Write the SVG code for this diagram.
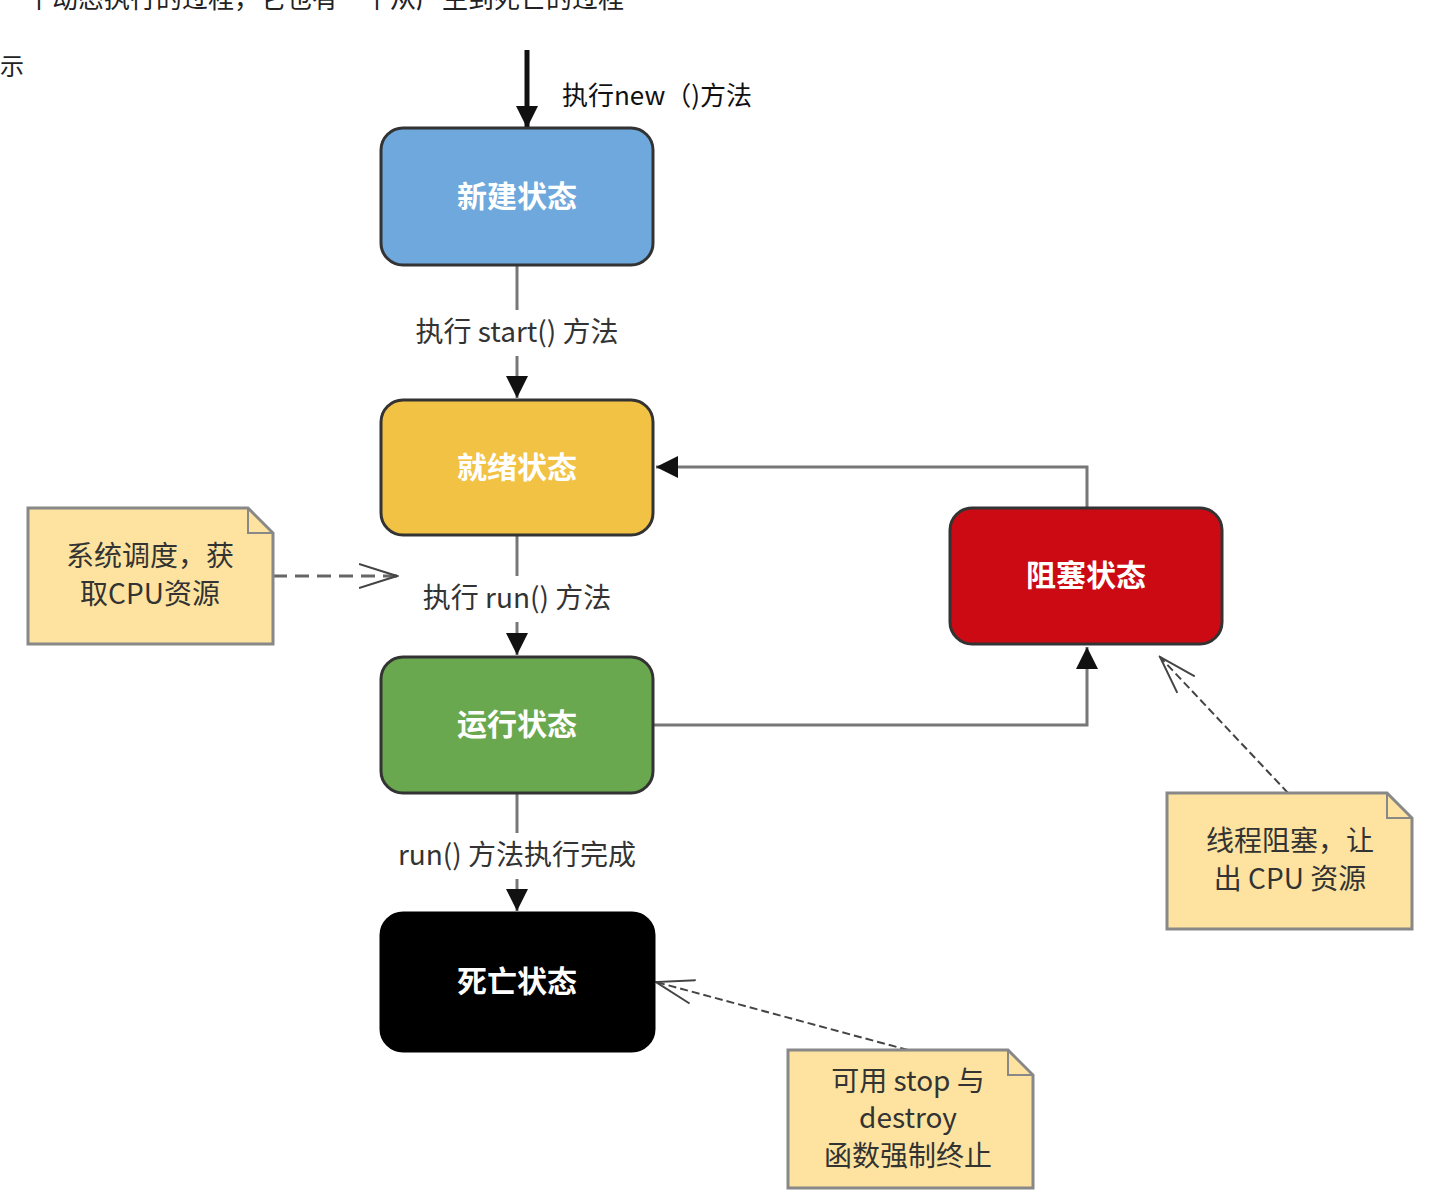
<svg xmlns="http://www.w3.org/2000/svg" width="1456" height="1204" viewBox="0 0 1456 1204">
<style>
text{font-family:"Noto Sans CJK SC","Liberation Sans",sans-serif}
.st{stroke:#333;stroke-width:3}
.sl{fill:#fff;font-size:30px;font-weight:bold;text-anchor:middle}
.lb{fill:#333;font-size:28px;text-anchor:middle}
.nt{fill:#fde39f;stroke:#888;stroke-width:3}
.ntx{fill:#333;font-size:28px;text-anchor:middle}
.ln{stroke:#777;stroke-width:3;fill:none}
</style>
<defs>
<marker id="fa" markerWidth="10" markerHeight="10" refX="9" refY="5" orient="auto" markerUnits="userSpaceOnUse" viewBox="0 0 10 10"><path d="M0,0L10,5L0,10z" fill="#111"/></marker>
<marker id="fb" markerWidth="24" markerHeight="22" refX="22" refY="11" orient="auto" markerUnits="userSpaceOnUse"><path d="M0,0L22,11L0,22z" fill="#111"/></marker>
<marker id="oa" markerWidth="40" markerHeight="30" refX="38" refY="15" orient="auto" markerUnits="userSpaceOnUse"><path d="M0,3L38,15L0,27" fill="none" stroke="#444" stroke-width="2"/></marker>
</defs>
<rect width="1456" height="1204" fill="#fff"/>
<text x="0" y="8" font-size="26" fill="#222">一个动态执行的过程，它也有一个从产生到死亡的过程</text>
<text x="0" y="75" font-size="24" fill="#222">示</text>
<g id="connectors">
<line x1="527" y1="50" x2="527" y2="128" stroke="#111" stroke-width="5" marker-end="url(#fb)"/>
<text x="562" y="105" font-size="26" fill="#111">执行new（)方法</text>
<line class="ln" x1="517" y1="265" x2="517" y2="398" marker-end="url(#fb)"/>
<rect x="395" y="310" width="245" height="46" fill="#fff"/>
<text class="lb" x="517" y="342">执行 start() 方法</text>
<line class="ln" x1="517" y1="535" x2="517" y2="655" marker-end="url(#fb)"/>
<rect x="400" y="576" width="235" height="46" fill="#fff"/>
<text class="lb" x="517" y="608">执行 run() 方法</text>
<line class="ln" x1="517" y1="793" x2="517" y2="911" marker-end="url(#fb)"/>
<rect x="378" y="833" width="278" height="46" fill="#fff"/>
<text class="lb" x="517" y="865">run() 方法执行完成</text>
<polyline class="ln" points="1087,508 1087,467 656,467" marker-end="url(#fb)"/>
<polyline class="ln" points="653,725 1087,725 1087,647" marker-end="url(#fb)"/>
<line x1="273" y1="576" x2="397" y2="576" stroke="#666" stroke-width="3" stroke-dasharray="14,8" marker-end="url(#oa)"/>
<line x1="1288" y1="793" x2="1160" y2="657" stroke="#444" stroke-width="2" stroke-dasharray="8,4" marker-end="url(#oa)"/>
<line x1="908" y1="1050" x2="656" y2="982" stroke="#444" stroke-width="2" stroke-dasharray="8,4" marker-end="url(#oa)"/>
</g>
<g id="new"><rect class="st" x="381" y="128" width="272" height="137" rx="22" fill="#6fa8dc"/><text class="sl" x="517" y="207">新建状态</text></g>
<g id="ready"><rect class="st" x="381" y="400" width="272" height="135" rx="22" fill="#f1c244"/><text class="sl" x="517" y="478">就绪状态</text></g>
<g id="running"><rect class="st" x="381" y="657" width="272" height="136" rx="22" fill="#6aa84f"/><text class="sl" x="517" y="735">运行状态</text></g>
<g id="dead"><rect x="381" y="913" width="273" height="138" rx="22" fill="#000" stroke="#000" stroke-width="3"/><text class="sl" x="517" y="992">死亡状态</text></g>
<g id="blocked"><rect class="st" x="950" y="508" width="272" height="136" rx="22" fill="#cc0a14"/><text class="sl" x="1086" y="586">阻塞状态</text></g>
<g id="note1"><path class="nt" d="M28,508H248L273,533V644H28Z"/><path d="M248,508V533H273" fill="none" stroke="#888" stroke-width="2"/><text class="ntx" x="150" y="566">系统调度，获</text><text class="ntx" x="150" y="604">取CPU资源</text></g>
<g id="note2"><path class="nt" d="M1167,793H1387L1412,818V929H1167Z"/><path d="M1387,793V818H1412" fill="none" stroke="#888" stroke-width="2"/><text class="ntx" x="1290" y="851">线程阻塞，让</text><text class="ntx" x="1290" y="889">出 CPU 资源</text></g>
<g id="note3"><path class="nt" d="M788,1050H1008L1033,1075V1188H788Z"/><path d="M1008,1050V1075H1033" fill="none" stroke="#888" stroke-width="2"/><text class="ntx" x="908" y="1091">可用 stop 与</text><text class="ntx" x="908" y="1128">destroy</text><text class="ntx" x="908" y="1166">函数强制终止</text></g>
</svg>
